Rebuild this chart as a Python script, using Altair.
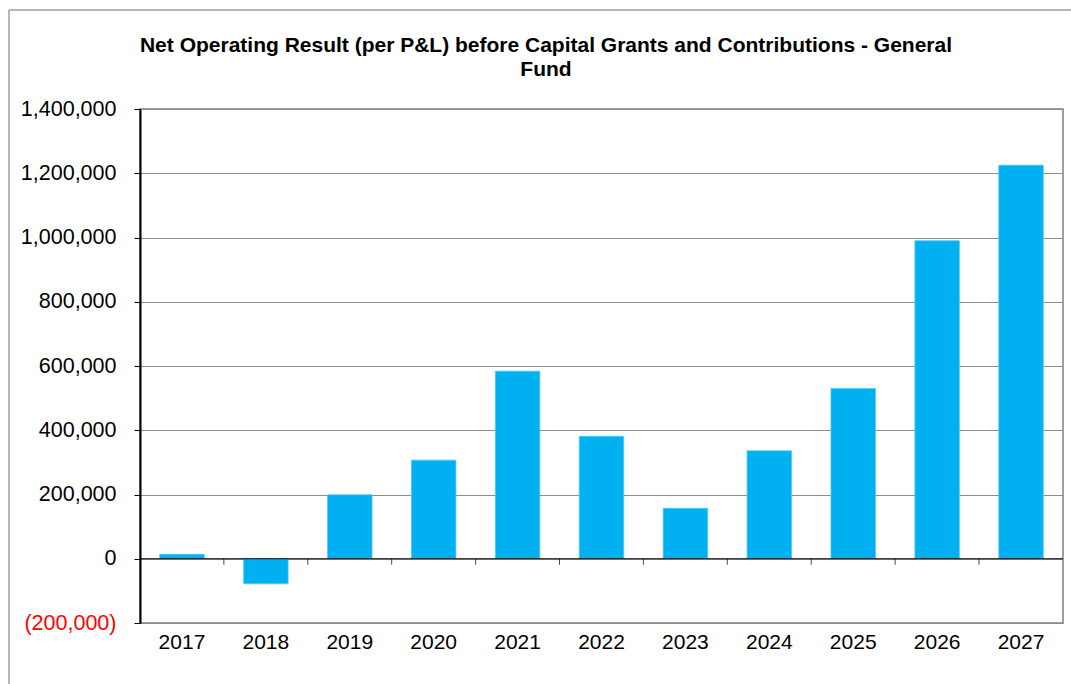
import altair as alt
import pandas as pd

years = ["2017", "2018", "2019", "2020", "2021", "2022", "2023", "2024", "2025", "2026", "2027"]
values = [14000, -78000, 199000, 307000, 584000, 381000, 157000, 336000, 530000, 990000, 1225000]
y_ticks = [-200000, 0, 200000, 400000, 600000, 800000, 1000000, 1200000, 1400000]
title_lines = ["Net Operating Result (per P&L) before Capital Grants and Contributions - General", "Fund"]

df = pd.DataFrame({"year": years, "value": values})

W, H = 923, 514
PAD_L, PAD_T, PAD_R, PAD_B = 140, 109, 8, 61

x_enc = alt.X("year:N", sort=years,
              scale=alt.Scale(paddingInner=0.47, paddingOuter=0.235),
              axis=alt.Axis(title=None, ticks=False, domain=False, labelFontSize=21,
                            labelFont="Liberation Sans", labelColor="black",
                            labelPadding=8, labelAngle=0))

y_scale = alt.Scale(domain=[-200000, 1400000], nice=False, zero=False)

bars = alt.Chart(df).mark_bar(color="#00B0F0", stroke="#4FC8F5", strokeWidth=0.8).encode(
    x=x_enc,
    y=alt.Y("value:Q", scale=y_scale,
            axis=alt.Axis(title=None, values=y_ticks, grid=True, gridColor="#8c8c8c",
                          gridWidth=1, domain=True, domainColor="black", domainWidth=2,
                          tickColor="black", tickSize=6, labelPadding=18,
                          labelFontSize=21.5, labelFont="Liberation Sans",
                          labelExpr="datum.value < 0 ? '(' + format(-datum.value, ',') + ')' : format(datum.value, ',')",
                          labelColor={"condition": {"test": "datum.value < 0", "value": "#ff0000"}, "value": "black"})),
)

zero = alt.Chart(pd.DataFrame({"v": [0]})).mark_rule(color="black", strokeWidth=1).encode(
    y=alt.Y("v:Q", scale=y_scale)
)

ticks = alt.Chart(df.iloc[1:]).mark_tick(orient="vertical", size=6, thickness=1, color="black",
                                          xOffset=-42, yOffset=3).encode(
    x=alt.X("year:N", sort=years),
    y=alt.Y("zero:Q", scale=y_scale),
).transform_calculate(zero="0")

border_left = alt.Chart(pd.DataFrame({"a": [0]})).mark_rule(color="#a0a0a0", strokeWidth=1.5, clip=False).encode(
    x=alt.value(-131), y=alt.value(-99), y2=alt.value(H + PAD_B)
)
border_top = alt.Chart(pd.DataFrame({"a": [0]})).mark_rule(color="#a0a0a0", strokeWidth=1.5, clip=False).encode(
    x=alt.value(-131), x2=alt.value(W + PAD_R), y=alt.value(-99)
)

title1 = alt.Chart(pd.DataFrame({"t": [title_lines[0]]})).mark_text(
    font="Liberation Sans", fontSize=21, fontWeight="bold", color="black",
    align="center", baseline="alphabetic", clip=False,
).encode(text="t:N", x=alt.value(406), y=alt.value(-57))
title2 = alt.Chart(pd.DataFrame({"t": [title_lines[1]]})).mark_text(
    font="Liberation Sans", fontSize=21, fontWeight="bold", color="black",
    align="center", baseline="alphabetic", clip=False,
).encode(text="t:N", x=alt.value(406), y=alt.value(-33))

chart = alt.layer(bars, zero, ticks, border_left, border_top, title1, title2).properties(
    width=W, height=H,
    autosize=alt.AutoSizeParams(type="none"),
    padding={"left": PAD_L, "top": PAD_T, "right": PAD_R, "bottom": PAD_B},
    background="white",
).configure_view(stroke="#808080", strokeWidth=1.5)

chart.save("out.html", embed_options={"renderer": "svg", "actions": False})
